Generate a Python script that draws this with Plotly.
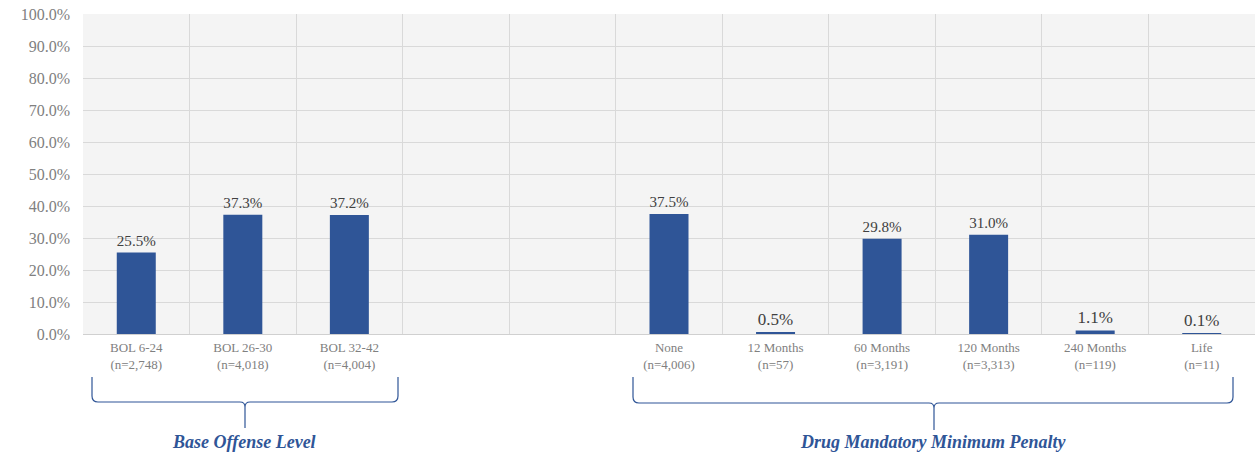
import plotly.graph_objects as go

# Categories (two empty slots separate the two groups)
categories = ["BOL 6-24", "BOL 26-30", "BOL 32-42", "gap1", "gap2",
              "None", "12 Months", "60 Months", "120 Months", "240 Months", "Life"]
counts = ["2,748", "4,018", "4,004", None, None,
          "4,006", "57", "3,191", "3,313", "119", "11"]
values = [25.5, 37.3, 37.2, None, None, 37.5, 0.5, 29.8, 31.0, 1.1, 0.1]

group_titles = ["Base Offense Level", "Drug Mandatory Minimum Penalty"]

BLUE = "#2F5597"

tick_text = [
    f"{c}<br>(n={n})" if n is not None else ""
    for c, n in zip(categories, counts)
]
bar_text = [f"{v:.1f}%" if v is not None else "" for v in values]

fig = go.Figure()
fig.add_trace(go.Bar(
    x=categories,
    y=values,
    marker=dict(color=BLUE, line=dict(width=0)),
    text=bar_text,
    textposition="outside",
    texttemplate="%{text}",
    textfont=dict(family="Liberation Serif", size=17, color="#404040"),
    cliponaxis=False,
    hoverinfo="skip",
))

# Plot-area geometry in pixels (used to place braces in paper units)
W, H = 1258, 456
L, R, T, B = 83, 3, 14, 122
pw, ph = W - L - R, H - T - B


def px(x):
    return (x - L) / pw


def py(y):
    return (H - B - y) / ph


def brace(x0, x1, xc, ytop, yh, ytip, r=6, rc=5):
    return (
        f"M {px(x0)},{py(ytop)} L {px(x0)},{py(yh - r)} "
        f"Q {px(x0)},{py(yh)} {px(x0 + r)},{py(yh)} "
        f"L {px(xc - rc)},{py(yh)} Q {px(xc)},{py(yh)} {px(xc)},{py(yh + rc)} "
        f"L {px(xc)},{py(ytip)} "
        f"M {px(x1)},{py(ytop)} L {px(x1)},{py(yh - r)} "
        f"Q {px(x1)},{py(yh)} {px(x1 - r)},{py(yh)} "
        f"L {px(xc + rc)},{py(yh)} Q {px(xc)},{py(yh)} {px(xc)},{py(yh + rc)}"
    )


shapes = [
    dict(type="path", xref="paper", yref="paper",
         path=brace(92, 398, 245, 377, 402, 428),
         line=dict(color=BLUE, width=1.2)),
    dict(type="path", xref="paper", yref="paper",
         path=brace(633, 1233, 934, 377, 403, 430),
         line=dict(color=BLUE, width=1.2)),
]

annotations = [
    dict(text=f"<b><i>{group_titles[0]}</i></b>", xref="paper", yref="paper",
         x=px(244), y=py(442), showarrow=False, xanchor="center", yanchor="middle",
         font=dict(family="Liberation Serif", size=18, color=BLUE)),
    dict(text=f"<b><i>{group_titles[1]}</i></b>", xref="paper", yref="paper",
         x=px(933), y=py(442), showarrow=False, xanchor="center", yanchor="middle",
         font=dict(family="Liberation Serif", size=18, color=BLUE)),
]

fig.update_layout(
    width=W, height=H,
    margin=dict(l=L, r=R, t=T, b=B),
    paper_bgcolor="white",
    plot_bgcolor="#f4f4f4",
    bargap=0.634,
    showlegend=False,
    shapes=shapes,
    annotations=annotations,
    xaxis=dict(
        type="category",
        categoryorder="array",
        categoryarray=categories,
        tickmode="array",
        tickvals=categories,
        ticktext=tick_text,
        tickson="boundaries",
        ticks="",
        showgrid=True,
        gridcolor="#d9d9d9",
        gridwidth=1,
        showline=False,
        zeroline=False,
        tickfont=dict(family="Liberation Serif", size=13, color="#808080"),
        ticklabelstandoff=4,
    ),
    yaxis=dict(
        range=[0, 100],
        dtick=10,
        tick0=0,
        ticksuffix="%",
        tickformat=".1f",
        showgrid=True,
        gridcolor="#d9d9d9",
        gridwidth=1,
        zeroline=True,
        zerolinecolor="#d0d0d0",
        zerolinewidth=1,
        showline=False,
        ticks="",
        tickfont=dict(family="Liberation Serif", size=16, color="#808080"),
        ticklabelstandoff=12,
    ),
)

fig.write_html("out.html")
